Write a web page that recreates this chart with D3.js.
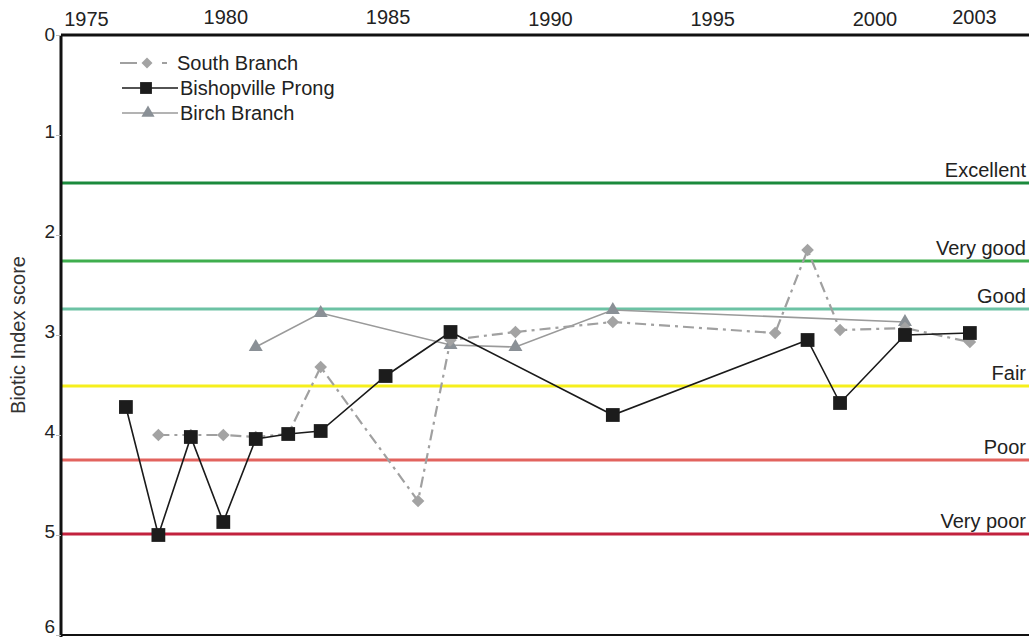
<!DOCTYPE html>
<html>
<head>
<meta charset="utf-8">
<script src="https://cdn.jsdelivr.net/npm/d3@7"></script>
<style>
  html, body { margin: 0; padding: 0; background: #fff; }
  svg { display: block; font-family: "Liberation Sans", Arial, sans-serif; }
</style>
</head>
<body>
<svg id="chart" width="1029" height="637"></svg>
<script>
// ---- data ----
const xTickYears = [1975, 1980, 1985, 1990, 1995, 2000, 2003];
const yTickValues = [0, 1, 2, 3, 4, 5, 6];

const southYears  = [1978, 1979, 1980, 1981, 1982, 1983, 1986, 1987, 1989, 1992, 1997, 1998, 1999, 2001, 2003];
const southValues = [4.0, 4.0, 4.0, 4.02, 3.99, 3.32, 4.66, 3.05, 2.97, 2.87, 2.98, 2.15, 2.95, 2.93, 3.07];

const bishopYears  = [1977, 1978, 1979, 1980, 1981, 1982, 1983, 1985, 1987, 1992, 1998, 1999, 2001, 2003];
const bishopValues = [3.72, 5.0, 4.02, 4.87, 4.04, 3.99, 3.96, 3.41, 2.97, 3.8, 3.05, 3.68, 3.0, 2.98];

const birchYears  = [1981, 1983, 1987, 1989, 1992, 2001];
const birchValues = [3.12, 2.78, 3.1, 3.12, 2.75, 2.87];

const ratingNames  = ["Excellent", "Very good", "Good", "Fair", "Poor", "Very poor"];
const ratingValues = [1.48, 2.26, 2.74, 3.51, 4.25, 4.99];
const ratingColors = ["#1b8a3c", "#3fae4e", "#6cc2a4", "#f6ef1c", "#e2635e", "#c2213d"];

const seriesNames = ["South Branch", "Bishopville Prong", "Birch Branch"];

// ---- setup ----
const svg = d3.select("#chart");
const W = 1029, H = 637;
const FONT = "Liberation Sans, Arial, sans-serif";
const x = d3.scaleLinear().domain([1975, 2005]).range([61, 1034.8]);
const y = d3.scaleLinear().domain([0, 6]).range([35, 635]);

// reference rating lines
const rg = svg.append("g");
ratingValues.forEach((v, i) => {
  rg.append("line")
    .attr("x1", x(1975)).attr("x2", W)
    .attr("y1", y(v)).attr("y2", y(v))
    .attr("stroke", ratingColors[i]).attr("stroke-width", 3);
  rg.append("text")
    .attr("x", 1026).attr("y", y(v) - 6)
    .attr("text-anchor", "end")
    .attr("font-size", 20).attr("fill", "#222")
    .text(ratingNames[i]);
});

// axes
const topAxis = d3.axisTop(x).tickValues(xTickYears).tickFormat(d3.format("d")).tickSize(0).tickPadding(9);
const gx = svg.append("g").attr("transform", `translate(0,${y(0)})`).call(topAxis);
gx.select(".domain").attr("d", `M${x(1975)},0H${W}`).attr("stroke", "#111").attr("stroke-width", 3);
gx.selectAll("text").attr("font-size", 20).attr("fill", "#222")
  .attr("font-family", FONT)
  .attr("dx", d => d === 1975 ? 25 : (d === 2003 ? 4 : 2))
  .attr("dy", d => (d === 1975 || d === 1990 || d === 1995 || d === 2000) ? 0 : -2);

const leftAxis = d3.axisLeft(y).tickValues(yTickValues).tickFormat(d3.format("d")).tickSize(5).tickPadding(1);
const gy = svg.append("g").attr("transform", `translate(${x(1975)},0)`).call(leftAxis);
gy.select(".domain").attr("d", `M0,${y(0)}V${H}`).attr("stroke", "#111").attr("stroke-width", 3);
gy.selectAll(".tick line").attr("stroke", "#bbb").attr("stroke-width", 1);
gy.selectAll("text").attr("font-size", 19).attr("fill", "#222")
  .attr("font-family", FONT)
  .attr("dy", d => d === 6 ? "-0.12em" : (d === 0 ? "0.3em" : "0.12em"));

// bottom line
svg.append("line").attr("x1", x(1975)).attr("x2", W).attr("y1", y(6)).attr("y2", y(6))
  .attr("stroke", "#111").attr("stroke-width", 2);

// y axis title
svg.append("text")
  .attr("transform", `translate(25,${335}) rotate(-90)`)
  .attr("text-anchor", "middle").attr("font-size", 20).attr("fill", "#333")
  .text("Biotic Index score");

const line = d3.line().x(d => x(d[0])).y(d => y(d[1]));
const zip = (a, b) => a.map((v, i) => [v, b[i]]);

const birch = zip(birchYears, birchValues);
const south = zip(southYears, southValues);
const bishop = zip(bishopYears, bishopValues);

const triSym = d3.symbol().type(d3.symbolTriangle).size(85);
const diaSym = d3.symbol().type(d3.symbolSquare).size(80);
const sqSym = d3.symbol().type(d3.symbolSquare).size(190);

// Birch Branch
svg.append("path").datum(birch).attr("d", line)
  .attr("fill", "none").attr("stroke", "#9a9a9a").attr("stroke-width", 1.6);
svg.append("g").selectAll("path").data(birch).join("path")
  .attr("d", triSym).attr("transform", d => `translate(${x(d[0])},${y(d[1])})`)
  .attr("fill", "#8a9096");

// South Branch
svg.append("path").datum(south).attr("d", line)
  .attr("fill", "none").attr("stroke", "#a0a0a0").attr("stroke-width", 2.2)
  .attr("stroke-dasharray", "11,5,3,5");
svg.append("g").selectAll("path").data(south).join("path")
  .attr("d", diaSym).attr("transform", d => `translate(${x(d[0])},${y(d[1])}) rotate(45)`)
  .attr("fill", "#a3a3a3");

// Bishopville Prong
svg.append("path").datum(bishop).attr("d", line)
  .attr("fill", "none").attr("stroke", "#1a1a1a").attr("stroke-width", 1.6);
svg.append("g").selectAll("path").data(bishop).join("path")
  .attr("d", sqSym).attr("transform", d => `translate(${x(d[0])},${y(d[1])})`)
  .attr("fill", "#1c1c1c");

// Legend
const lg = svg.append("g");
const legY = [63, 88, 113];
// South Branch
lg.append("line").attr("x1", 120).attr("x2", 137).attr("y1", legY[0]).attr("y2", legY[0])
  .attr("stroke", "#a0a0a0").attr("stroke-width", 2);
lg.append("path").attr("d", d3.symbol().type(d3.symbolSquare).size(60)).attr("transform", `translate(147,${legY[0]}) rotate(45)`).attr("fill", "#a3a3a3");
lg.append("line").attr("x1", 162).attr("x2", 167).attr("y1", legY[0]).attr("y2", legY[0])
  .attr("stroke", "#a0a0a0").attr("stroke-width", 2);
// Bishopville
lg.append("line").attr("x1", 122).attr("x2", 178).attr("y1", legY[1]).attr("y2", legY[1])
  .attr("stroke", "#1a1a1a").attr("stroke-width", 1.6);
lg.append("path").attr("d", d3.symbol().type(d3.symbolSquare).size(140)).attr("transform", `translate(146,${legY[1]})`).attr("fill", "#1c1c1c");
// Birch
lg.append("line").attr("x1", 122).attr("x2", 178).attr("y1", legY[2]).attr("y2", legY[2])
  .attr("stroke", "#9a9a9a").attr("stroke-width", 1.6);
lg.append("path").attr("d", d3.symbol().type(d3.symbolTriangle).size(75)).attr("transform", `translate(148,${legY[2]})`).attr("fill", "#8a9096");

seriesNames.forEach((n, i) => {
  lg.append("text").attr("x", i === 0 ? 177 : 180).attr("y", legY[i] + 7)
    .attr("font-size", 20).attr("fill", "#222").text(n);
});
</script>
</body>
</html>
